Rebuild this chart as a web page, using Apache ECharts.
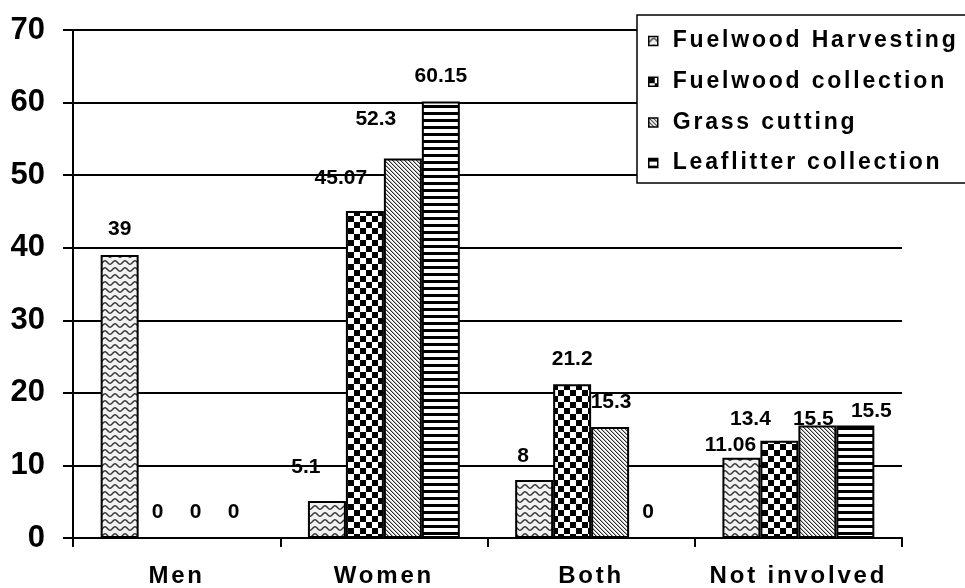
<!DOCTYPE html>
<html>
<head>
<meta charset="utf-8">
<script src="https://cdn.jsdelivr.net/npm/echarts@6/dist/echarts.min.js"></script>
<style>
  html, body { margin: 0; padding: 0; background: #fff; }
  #chart { width: 965px; height: 588px; }
</style>
</head>
<body>
<div id="chart"></div>
<script>
// Categories and values
const categories = ['Men', 'Women', 'Both', 'Not involved'];
const seriesNames = ['Fuelwood Harvesting', 'Fuelwood collection', 'Grass cutting', 'Leaflitter collection'];
const fuelwoodHarvesting   = [39, 5.1, 8, 11.06];
const fuelwoodCollection   = [0, 45.07, 21.2, 13.4];
const grassCutting         = [0, 52.3, 15.3, 15.5];
const leaflitterCollection = [0, 60.15, 0, 15.5];
const yMin = 0, yMax = 70, yStep = 10;

// Hand-placed nudges [dx, dy] for the value labels, per series and category
const labelNudges = [
  [[0, -1], [-21, -9], [-11, 1], [-11, 12]],
  [[0, 0], [-24, -8], [0, 0], [-29, 3]],
  [[0, 0], [-27, -14], [1, 0], [-4, 18.5]],
  [[0, 0], [0, 0], [0, 0], [16, 10.5]]
];

// Expanded character spacing for category names and legend entries only
const spacing = new Map();
categories.forEach(t => spacing.set(t, '2.8px'));
seriesNames.forEach(t => spacing.set(t, '2.8px'));
(function () {
  const proto = CanvasRenderingContext2D.prototype;
  const baseFill = proto.fillText;
  proto.fillText = function (text) {
    const sp = spacing.get(String(text));
    if (!('letterSpacing' in this)) return baseFill.apply(this, arguments);
    const prev = this.letterSpacing;
    this.letterSpacing = sp || '0px';
    const r = baseFill.apply(this, arguments);
    this.letterSpacing = prev === undefined ? '0px' : prev;
    return r;
  };
})();

// Fill patterns
function tile(w, h, draw) {
  const c = document.createElement('canvas');
  c.width = w; c.height = h;
  const ctx = c.getContext('2d');
  draw(ctx, w, h);
  return { image: c, repeat: 'repeat' };
}
const wavePattern = tile(10, 7, (ctx, w, h) => {
  ctx.fillStyle = '#f2f2f2'; ctx.fillRect(0, 0, w, h);
  ctx.strokeStyle = '#333'; ctx.lineWidth = 1.5;
  ctx.beginPath();
  for (let x = -1; x <= w + 1; x += 0.5) {
    const y = 3.5 + 1.7 * Math.cos(2 * Math.PI * x / w);
    if (x === -1) ctx.moveTo(x, y); else ctx.lineTo(x, y);
  }
  ctx.stroke();
});
const checkerPattern = tile(12, 12, (ctx) => {
  ctx.fillStyle = '#fff'; ctx.fillRect(0, 0, 12, 12);
  ctx.fillStyle = '#000';
  ctx.fillRect(0, 0, 6, 6); ctx.fillRect(6, 6, 6, 6);
});
const diagonalPattern = tile(4, 4, (ctx) => {
  ctx.fillStyle = '#fafafa'; ctx.fillRect(0, 0, 4, 4);
  for (let i = 0; i < 4; i++) {
    ctx.fillStyle = '#2e2e2e'; ctx.fillRect(i, i, 1, 1);
    ctx.fillStyle = '#b0b0b0'; ctx.fillRect((i + 1) % 4, i, 1, 1);
  }
});
const stripePattern = tile(4, 7, (ctx) => {
  ctx.fillStyle = '#fff'; ctx.fillRect(0, 0, 4, 7);
  ctx.fillStyle = '#000'; ctx.fillRect(0, 0, 4, 3);
});

const seriesValues = [fuelwoodHarvesting, fuelwoodCollection, grassCutting, leaflitterCollection];
const fills = [wavePattern, checkerPattern, diagonalPattern, stripePattern];
const fontFamily = '"Liberation Sans", Arial, sans-serif';

const chart = echarts.init(document.getElementById('chart'), null, { renderer: 'canvas' });

const series = seriesValues.map((vals, s) => ({
  name: seriesNames[s],
  type: 'bar',
  barGap: 0,
  barCategoryGap: '26.7%',
  itemStyle: { color: fills[s], borderColor: '#000', borderWidth: 2 },
  label: {
    show: true,
    position: 'top',
    distance: 14.5,
    color: '#000',
    fontFamily: fontFamily,
    fontSize: 21,
    fontWeight: 'bold'
  },
  data: vals.map((v, c) => ({
    value: v,
    label: { offset: labelNudges[s][c] }
  }))
}));

chart.setOption({
  animation: false,
  backgroundColor: '#fff',
  textStyle: { fontFamily: fontFamily },
  grid: { left: 73, right: 63, top: 30, bottom: 50, containLabel: false, outerBoundsMode: 'none' },
  legend: {
    orient: 'vertical',
    left: 637,
    top: 15,
    icon: 'rect',
    itemWidth: 9,
    itemHeight: 9,
    itemGap: 17.7,
    padding: [14.5, 140, 8.5, 11],
    backgroundColor: '#fff',
    borderColor: '#000',
    borderWidth: 1.5,
    itemStyle: { borderWidth: 1.5, borderColor: '#000' },
    textStyle: { fontFamily: fontFamily, fontSize: 23, fontWeight: 'bold', color: '#000', padding: [0, 0, 0, 10] },
    data: seriesNames
  },
  xAxis: {
    type: 'category',
    data: categories,
    axisLine: { lineStyle: { color: '#000', width: 2 } },
    axisTick: { show: true, length: 9, lineStyle: { color: '#000', width: 2 } },
    axisLabel: { margin: 26, color: '#000', fontFamily: fontFamily, fontSize: 24, fontWeight: 'bold' },
    splitLine: { show: false }
  },
  yAxis: {
    type: 'value',
    min: yMin,
    max: yMax,
    interval: yStep,
    axisLine: { show: true, lineStyle: { color: '#000', width: 2 } },
    axisTick: { show: true, length: 10, lineStyle: { color: '#000', width: 2 } },
    axisLabel: { margin: 28, color: '#000', fontFamily: fontFamily, fontSize: 31, fontWeight: 'bold' },
    splitLine: { show: true, lineStyle: { color: '#000', width: 2 } }
  },
  series: series
});
</script>
</body>
</html>
